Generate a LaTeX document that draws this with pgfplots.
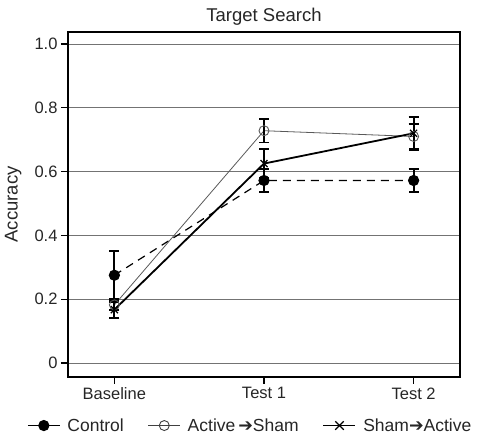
\documentclass[border=0pt]{standalone}
\usepackage{pgfplots}
\pgfplotsset{compat=1.18}
\usepackage{fontspec}
\setmainfont{Liberation Sans}
\newfontfamily\dejavu{DejaVu Sans}
\begin{document}
\begin{tikzpicture}[x=1pt,y=1pt]
\path (-68,-61) rectangle (412,377);
\begin{axis}[
  at={(0pt,0pt)}, anchor=south west,
  scale only axis, width=392pt, height=345pt,
  xmin=-0.31, xmax=2.31, ymin=-0.044, ymax=1.0375,
  xtick={0,1,2}, xticklabels={Baseline,Test 1,Test 2},
  ytick={0,0.2,0.4,0.6,0.8,1.0}, yticklabels={0,0.2,0.4,0.6,0.8,1.0},
  ymajorgrids, grid style={black!55, line width=0.9pt},
  tick align=outside, tick pos=left, major tick length=7pt,
  axis line style={line width=1.6pt},
  tick style={black, line width=1.2pt},
  ticklabel style={font=\fontsize{16.5}{19}\selectfont, text=black!85},
  title={Target Search},
  title style={font=\fontsize{18.5}{21}\selectfont, text=black!85, yshift=-3pt},
  ylabel={Accuracy},
  ylabel style={font=\fontsize{18.5}{21}\selectfont, text=black!85, at={(axis description cs:-0.11,0.5)}, anchor=south},
  legend style={at={(0.465,-0.108)}, anchor=north, draw=none, legend columns=3,
    font=\fontsize{17.5}{20}\selectfont, text=black!85,
    /tikz/every odd column/.append style={column sep=5pt},
    /tikz/every even column/.append style={column sep=22pt}},
  legend cell align=left,
  legend image code/.code={\draw[#1, mark repeat=2, mark phase=2] plot coordinates {(0pt,0pt)(16pt,0pt)(32pt,0pt)};},
  error bars/error bar style={line width=1.8pt, black, solid},
  error bars/error mark options={rotate=90, mark size=5pt, line width=1.8pt, black, solid},
]
% Control
\addplot[forget plot, black, line width=1.2pt, dash pattern=on 8pt off 6pt, mark=*, mark size=5pt, mark options={solid},
  error bars/.cd, y dir=both, y explicit]
  coordinates {(0,0.275) +- (0,0.075) (1,0.572) +- (0,0.037) (2,0.572) +- (0,0.037)};
% Active -> Sham
\addplot[forget plot, black!65, line width=0.8pt, mark=o, mark size=5pt, mark options={solid, line width=0.9pt},
  error bars/.cd, y dir=both, y explicit]
  coordinates {(0,0.182) +- (0,0.015) (1,0.728) +- (0,0.037) (2,0.71) +- (0,0.04)};
% Sham -> Active
\addplot[forget plot, black, line width=1.8pt, mark=x, mark size=5pt, mark options={solid, line width=1.2pt},
  error bars/.cd, y dir=both, y explicit]
  coordinates {(0,0.167) +- (0,0.025) (1,0.625) +- (0,0.045) (2,0.72) +- (0,0.052)};
\addlegendimage{black, line width=1.2pt, mark=*, mark size=5pt}
\addlegendentry{Control}
\addlegendimage{black!75, line width=0.9pt, mark=o, mark size=5pt}
\addlegendentry{Active\,{\dejavu ➔}Sham}
\addlegendimage{black, line width=1.6pt, mark=x, mark size=6pt, mark options={line width=1.2pt}}
\addlegendentry{Sham{\dejavu ➔}Active}
\end{axis}
\end{tikzpicture}
\end{document}
